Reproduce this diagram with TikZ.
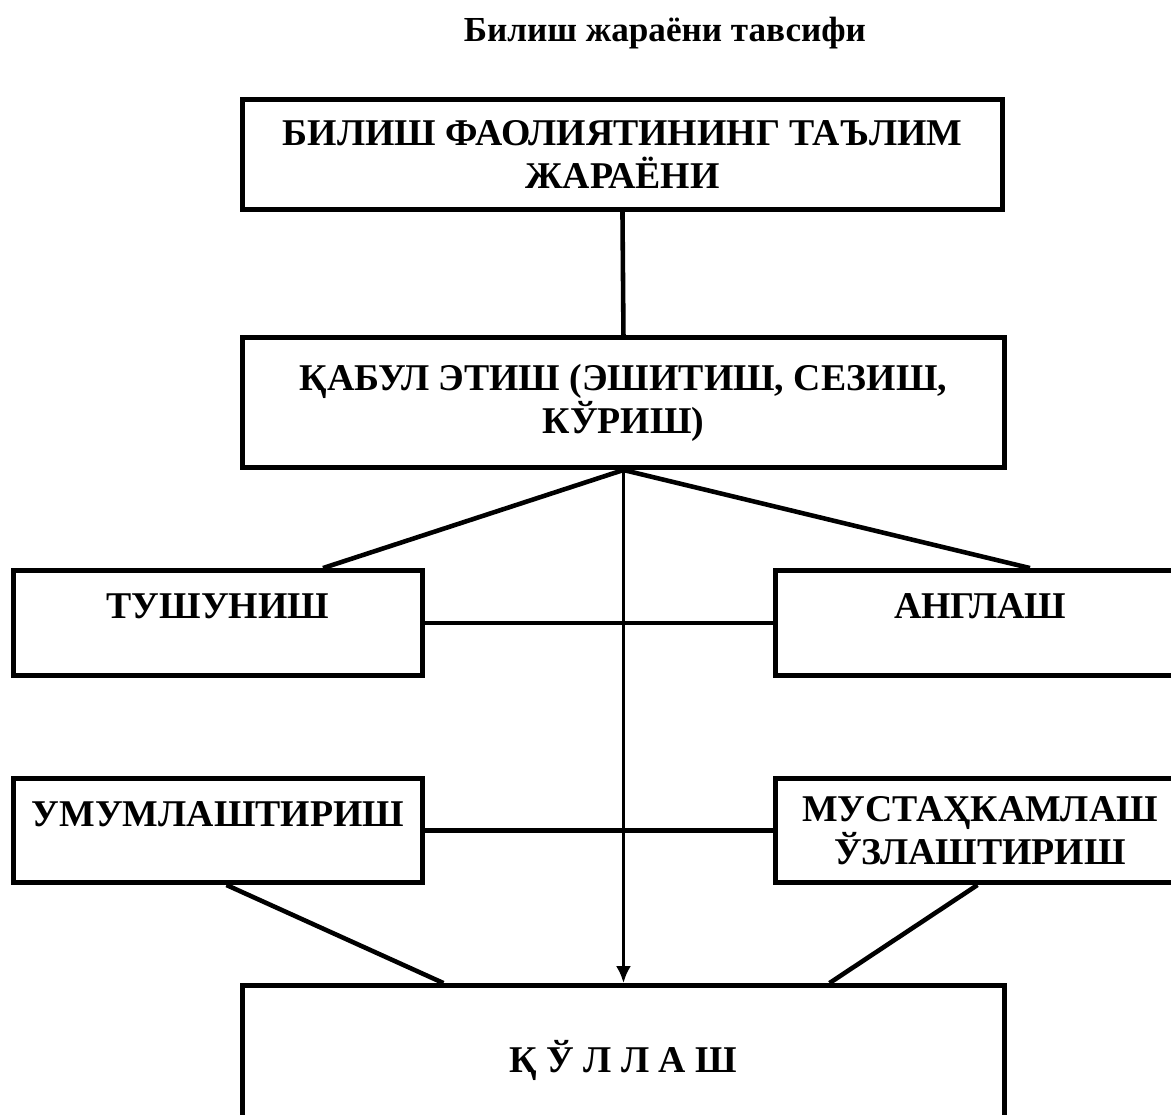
\documentclass[tikz,border=0pt]{standalone}
\usepackage{fontspec}
\setmainfont{Liberation Serif}
\usepackage{tikz}
\usetikzlibrary{arrows.meta, positioning, calc}
\tikzstyle{block} = [draw, line width=2.8pt, anchor=south west, align=center, inner sep=0pt, font=\bfseries\fontsize{21.5}{24.5}\selectfont]
\tikzstyle{uptext} = [text height=0.5cm, text depth=0.68cm]
\tikzstyle{link} = [line width=2.6pt]

\begin{document}
\begin{tikzpicture}
		\useasboundingbox (0, 0) rectangle (23.42, 22.28);
		\coordinate (title)   at (13.3,  21.62);
		\coordinate (process) at (4.8,   18.04);
		\coordinate (accept)  at (4.8,   12.88);
		\coordinate (underst) at (0.22,  8.72);
		\coordinate (realize) at (15.46, 8.72);
		\coordinate (general) at (0.22,  4.58);
		\coordinate (fixing)  at (15.46, 4.58);
		\coordinate (applyin) at (4.8,   -0.48);

		\node[font=\bfseries\fontsize{20}{24}\selectfont] (TIT) at (title) {Билиш жараёни тавсифи};
		\node[block, minimum width=15.2cm, minimum height=2.2cm] (PRO) at (process) {БИЛИШ ФАОЛИЯТИНИНГ ТАЪЛИМ\\ЖАРАЁНИ};
		\node[block, minimum width=15.24cm, minimum height=2.6cm] (ACC) at (accept) {ҚАБУЛ ЭТИШ (ЭШИТИШ, СЕЗИШ,\\КЎРИШ)};
		\node[block, uptext, minimum width=8.18cm, minimum height=2.1cm] (UND) at (underst) {ТУШУНИШ};
		\node[block, uptext, minimum width=8.18cm, minimum height=2.1cm] (REA) at (realize) {АНГЛАШ};
		\node[block, uptext, minimum width=8.18cm, minimum height=2.08cm] (GEN) at (general) {УМУМЛАШТИРИШ};
		\node[block, minimum width=8.18cm, minimum height=2.08cm] (FIX) at (fixing) {МУСТАҲКАМЛАШ\\ЎЗЛАШТИРИШ};
		\node[block, minimum width=15.24cm, minimum height=3cm] (APP) at (applyin) {Қ Ў Л Л А Ш};

		\draw[link] (PRO.south) -- (ACC.north);
		\draw[link] (ACC.south) -- ($(UND.north) + (2.1, 0)$);
		\draw[link] (ACC.south) -- ($(REA.north) + (1, 0)$);
		\draw[line width=1.8pt, -{Latex[length=0.34cm, width=0.3cm]}] (ACC.south) -- (APP.north);
		\draw[link] (UND.east) -- (REA.west);
		\draw[link] (GEN.east) -- (FIX.west);
		\draw[link] ($(GEN.south) + (0.17, 0)$) -- ($(APP.north) - (3.6, 0)$);
		\draw[link] ($(FIX.south) - (0.05, 0)$) -- ($(APP.north) + (4.12, 0)$);

	\end{tikzpicture}
\end{document}
